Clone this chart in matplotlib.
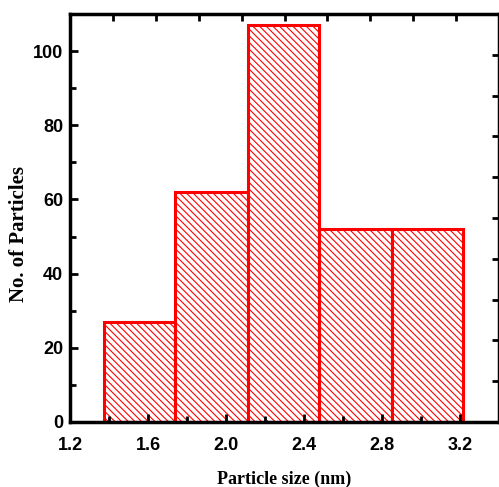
import numpy as np
import matplotlib
matplotlib.use("Agg")
import matplotlib.pyplot as plt

# bin edges and counts
bin_edges = [1.374, 1.738, 2.113, 2.477, 2.851, 3.215]
counts = [27, 62, 107, 52, 52]

x_ticks = [1.2, 1.6, 2.0, 2.4, 2.8, 3.2]
y_ticks = [0, 20, 40, 60, 80, 100]

plt.rcParams['hatch.color'] = 'red'
plt.rcParams['hatch.linewidth'] = 0.8

fig = plt.figure(figsize=(4.99, 4.87), dpi=100)
ax = fig.add_axes([70 / 499, 65 / 487, 429 / 499, 408 / 487])

widths = np.diff(bin_edges)
ax.bar(bin_edges[:-1], counts, width=widths, align='edge',
       facecolor='white', edgecolor='red', linewidth=2.2, hatch='\\\\\\\\\\')

ax.set_xlim(1.2, 3.4)
ax.set_ylim(0, 110)
ax.set_xticks(x_ticks)
ax.set_xticks(np.arange(1.4, 3.4, 0.4), minor=True)
ax.set_yticks(y_ticks)
ax.set_yticks(np.arange(10, 110, 20), minor=True)
ax.set_xticklabels([f"{v:.1f}" for v in x_ticks], family='Liberation Sans',
                   weight='bold', size=13)
ax.set_yticklabels([str(v) for v in y_ticks], family='Liberation Sans',
                   weight='bold', size=13)

ax.tick_params(which='major', direction='in', length=6, width=2,
               top=False, right=False)
ax.tick_params(which='minor', direction='in', length=4, width=2,
               top=False, right=False)
ax.tick_params(axis='y', pad=5)
ax.tick_params(axis='x', pad=11)
for s in ax.spines.values():
    s.set_linewidth(2.5)

# top and right ticks of the frame (unlabelled, slightly different spacing)
top = ax.secondary_xaxis('top')
top.set_xticks([1.2 + 0.22 * k for k in range(1, 10)])
top.set_xticklabels([])
top.tick_params(direction='in', length=5, width=2)
top.spines['top'].set_visible(False)
right = ax.secondary_yaxis('right')
right.set_yticks([11 * k for k in range(1, 10)])
right.set_yticklabels([])
right.tick_params(direction='in', length=5, width=2)
right.spines['right'].set_visible(False)

ax.set_xlabel("Particle size (nm)", family='Liberation Serif', weight='bold',
              size=13)
ax.set_ylabel("No. of Particles", family='Liberation Serif', weight='bold',
              size=15)
ax.xaxis.set_label_coords(0.5, -0.12)
ax.yaxis.set_label_coords(-0.095, 0.46)

fig.savefig("out.png", dpi=100)
